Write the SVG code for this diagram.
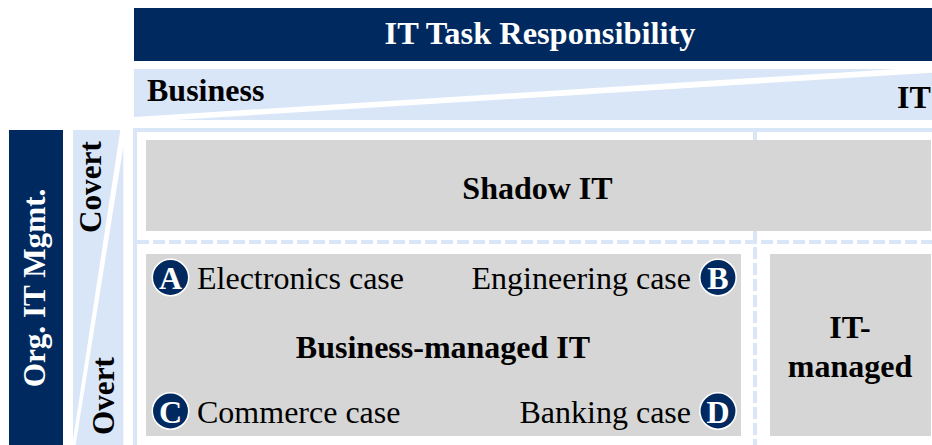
<svg xmlns="http://www.w3.org/2000/svg" width="932" height="445" viewBox="0 0 932 445">
<style>
text{font-family:"Liberation Serif","Times New Roman",serif;fill:#000}
.b{font-weight:bold}
.t{font-size:32px}
.v{font-size:31.2px}
.w{fill:#fff}
.dark{fill:#002a5f}
.light{fill:#d9e6f8}
.gray{fill:#d6d6d6}
.solid{stroke:#d9e6f8;stroke-width:4;fill:none}
.dash{stroke:#d9e6f8;stroke-width:4;fill:none;stroke-dasharray:12 4}
.badge{fill:#002a5f;stroke:#fff;stroke-width:1.5}
.bl{font-size:32px;font-weight:bold;fill:#fff;text-anchor:middle}
.m{text-anchor:middle}
</style>
<rect width="932" height="445" fill="#fff"/>
<g id="header-task">
<rect class="dark" x="134" y="8" width="798" height="53"/>
<text class="b w m" font-size="32.4" x="540" y="44">IT Task Responsibility</text>
</g>
<g id="scale-business">
<polygon class="light" points="134,69 897,69 134,117"/>
<text class="b t" x="147" y="101">Business</text>
</g>
<g id="scale-it">
<polygon class="light" points="932,72.7 932,120 175,120"/>
<text class="b t" x="897" y="108">IT</text>
</g>
<g id="header-org">
<rect class="dark" x="9" y="130" width="54" height="315"/>
<text class="b v w m" transform="translate(45,288) rotate(-90)">Org. IT Mgmt.</text>
</g>
<g id="scale-covert">
<polygon class="light" points="73,130 120.3,130 73,440"/>
<text class="b v" transform="translate(101,233) rotate(-90)">Covert</text>
</g>
<g id="scale-overt">
<polygon class="light" points="123.3,147 123.3,445 75.6,445"/>
<text class="b v" transform="translate(114,435) rotate(-90)">Overt</text>
</g>
<g id="connectors">
<path class="solid" d="M932 130H135V445"/>
<path class="solid" d="M755 130V231"/>
<path class="dash" d="M137 242H932"/>
<path class="dash" d="M755 231V445"/>
</g>
<g id="shadow-it">
<rect class="gray" x="146" y="140" width="785" height="91"/>
<text class="b t m" x="537.5" y="198.5">Shadow IT</text>
</g>
<g id="business-managed-it">
<rect class="gray" x="146" y="254" width="595" height="182"/>
<text class="b t m" x="443" y="357.5">Business-managed IT</text>
</g>
<g id="it-managed">
<rect class="gray" x="770" y="254" width="161" height="182"/>
<text class="b t m" x="850" y="338">IT-</text>
<text class="b t m" x="850" y="376.5">managed</text>
</g>
<g id="case-a">
<circle class="badge" cx="170.5" cy="277.5" r="18.2"/>
<text class="bl" x="170.5" y="288.5">A</text>
<text class="t" x="197" y="288.5">Electronics case</text>
</g>
<g id="case-b">
<circle class="badge" cx="718" cy="277.5" r="18.2"/>
<text class="bl" x="718" y="288.5">B</text>
<text class="t" x="691" y="288.5" text-anchor="end">Engineering case</text>
</g>
<g id="case-c">
<circle class="badge" cx="170.5" cy="411" r="18.2"/>
<text class="bl" x="170.5" y="422.5">C</text>
<text class="t" x="197" y="422.5">Commerce case</text>
</g>
<g id="case-d">
<circle class="badge" cx="718" cy="411" r="18.2"/>
<text class="bl" x="718" y="422.5">D</text>
<text class="t" x="691" y="422.5" text-anchor="end">Banking case</text>
</g>
</svg>
